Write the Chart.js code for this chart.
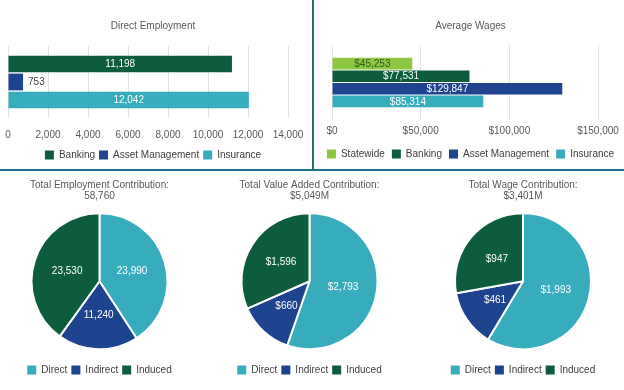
<!DOCTYPE html>
<html>
<head>
<meta charset="utf-8">
<script src="https://cdn.jsdelivr.net/npm/chart.js@4.4.1/dist/chart.umd.min.js"></script>
<style>
  html, body { margin: 0; padding: 0; background: #fff; }
  body { width: 624px; height: 390px; position: relative; overflow: hidden; }
  .box { position: absolute; }
  .sep { position: absolute; background: #1f6f8b; z-index: 5; }
</style>
</head>
<body>
<div class="box" style="left:0;top:0;width:312px;height:170px"><canvas id="employment"></canvas></div>
<div class="box" style="left:315px;top:0;width:309px;height:170px"><canvas id="wages"></canvas></div>
<div class="box" style="left:0;top:172px;width:199px;height:218px"><canvas id="pieEmployment"></canvas></div>
<div class="box" style="left:210px;top:172px;width:199px;height:218px"><canvas id="pieValue"></canvas></div>
<div class="box" style="left:424px;top:172px;width:198px;height:218px"><canvas id="pieWage"></canvas></div>
<div class="sep" style="left:312px;top:0;width:2px;height:170px"></div>
<div class="sep" style="left:0;top:169px;width:624px;height:2px"></div>

<script>
// data
const employmentSectors = ["Banking", "Asset Management", "Insurance"];
const employmentValues = [11198, 753, 12042];
const employmentTicks = { max: 14000, step: 2000 };

const wageSectors = ["Statewide", "Banking", "Asset Management", "Insurance"];
const wageValues = [45253, 77531, 129847, 85314];
const wageTicks = { max: 150000, step: 50000 };

const pieLabels = ["Direct", "Indirect", "Induced"];
const employmentContribution = [23990, 11240, 23530];
const valueAddedContribution = [2793, 660, 1596];
const wageContribution = [1993, 461, 947];

const colors = {
  Statewide: "#8dc641",
  Banking: "#0c5c3d",
  "Asset Management": "#1e438f",
  Insurance: "#37acbd",
};
const pieColors = ["#37acbd", "#1e438f", "#0c5c3d"];

Chart.defaults.font.family = "'Liberation Sans', Arial, sans-serif";
Chart.defaults.font.size = 10;
Chart.defaults.animation = false;

const fmt = (v) => v.toLocaleString("en-US");
const money = (v) => "$" + v.toLocaleString("en-US");

// labels on bars: inside if they fit, else to the right
const barLabels = {
  id: "barLabels",
  afterDatasetsDraw(chart, args, opts) {
    const { ctx } = chart;
    ctx.save();
    ctx.font = "10px 'Liberation Sans', Arial, sans-serif";
    ctx.textBaseline = "middle";
    chart.data.datasets.forEach((ds, i) => {
      chart.getDatasetMeta(i).data.forEach((bar, j) => {
        const text = opts.format(ds.data[j]);
        const w = ctx.measureText(text).width;
        const len = bar.x - bar.base;
        if (w + 6 < len) {
          ctx.textAlign = "center";
          ctx.fillStyle = ds.labelColor || "#fff";
          ctx.fillText(text, (bar.x + bar.base) / 2, bar.y + 0.5);
        } else {
          ctx.textAlign = "left";
          ctx.fillStyle = "#404040";
          ctx.fillText(text, bar.x + 5, bar.y + 0.5);
        }
      });
    });
    ctx.restore();
  },
};

// labels inside pie slices
const pieValueLabels = {
  id: "pieValueLabels",
  afterDatasetsDraw(chart, args, opts) {
    const { ctx } = chart;
    const ds = chart.data.datasets[0];
    ctx.save();
    ctx.font = "10px 'Liberation Sans', Arial, sans-serif";
    ctx.fillStyle = "#fff";
    ctx.textAlign = "center";
    ctx.textBaseline = "middle";
    chart.getDatasetMeta(0).data.forEach((arc, j) => {
      const p = arc.tooltipPosition();
      ctx.fillText(opts.format(ds.data[j]), p.x, p.y);
    });
    ctx.restore();
  },
};

function barChart(id, title, sectors, values, ticks, tickFmt, lay) {
  new Chart(document.getElementById(id), {
    type: "bar",
    data: {
      labels: [""],
      datasets: sectors.map((s, i) => ({
        label: s,
        data: [values[i]],
        backgroundColor: colors[s],
        labelColor: s === "Statewide" ? "#2f5a1c" : "#fff",
        barPercentage: lay.barPct,
        categoryPercentage: lay.catPct,
      })),
    },
    options: {
      indexAxis: "y",
      responsive: true,
      maintainAspectRatio: false,
      layout: { padding: lay.padding },
      scales: {
        // blank axes only used to set the side margins of the plot
        y: {
          grid: { display: false },
          border: { display: false },
          ticks: { display: false },
          afterFit: (s) => { s.width = lay.left; },
        },
        yRight: {
          type: "linear",
          position: "right",
          grid: { display: false },
          border: { display: false },
          ticks: { display: false },
          afterFit: (s) => { s.width = lay.right; },
        },
        x: {
          min: 0,
          max: ticks.max,
          border: { display: false },
          grid: { color: "#e3e3e3", drawTicks: false },
          ticks: {
            stepSize: ticks.step,
            color: "#595959",
            padding: lay.tickPad,
            callback: (v) => tickFmt(v),
          },
          afterFit: (s) => {
            s.height = lay.axisH;
            s.paddingLeft = 0;
            s.paddingRight = 0;
          },
        },
      },
      plugins: {
        title: {
          display: true,
          text: title,
          color: "#595959",
          font: { size: 10, weight: "normal", lineHeight: 1.1 },
          padding: lay.titlePad,
        },
        legend: {
          position: "bottom",
          labels: {
            boxWidth: 9,
            boxHeight: 9,
            color: "#404040",
            padding: lay.legendPad,
          },
        },
        tooltip: { enabled: false },
        barLabels: { format: tickFmt },
      },
    },
    plugins: [barLabels],
  });
}

function pieChart(id, title, values, valueFmt, totalFmt) {
  const total = values.reduce((a, b) => a + b, 0);
  new Chart(document.getElementById(id), {
    type: "pie",
    data: {
      labels: pieLabels,
      datasets: [
        {
          data: values,
          backgroundColor: pieColors,
          borderColor: "#fff",
          borderWidth: 2,
          radius: 68,
        },
      ],
    },
    options: {
      responsive: true,
      maintainAspectRatio: false,
      layout: { padding: { bottom: 5 } },
      plugins: {
        title: {
          display: true,
          text: [title, totalFmt(total)],
          color: "#595959",
          font: { size: 10, weight: "normal", lineHeight: 1.1 },
          padding: { top: 7.5, bottom: 0 },
        },
        legend: {
          position: "bottom",
          labels: {
            boxWidth: 9,
            boxHeight: 9,
            color: "#404040",
            padding: 4,
            generateLabels: (chart) =>
              Chart.overrides.pie.plugins.legend.labels
                .generateLabels(chart)
                .map((l) => ({ ...l, lineWidth: 0 })),
          },
        },
        tooltip: { enabled: false },
        pieValueLabels: { format: valueFmt },
      },
    },
    plugins: [pieValueLabels],
  });
}

barChart("employment", "Direct Employment", employmentSectors, employmentValues, employmentTicks, fmt, {
  padding: { left: 0, right: 6, bottom: 0 },
  left: 8,
  right: 18,
  titlePad: { top: 21, bottom: 14 },
  tickPad: 11.5,
  axisH: 28,
  legendPad: 4,
  barPct: 0.93,
  catPct: 0.75,
});

barChart("wages", "Average Wages", wageSectors, wageValues, wageTicks, money, {
  padding: { left: 2, right: 0, bottom: 1 },
  left: 15,
  right: 26,
  titlePad: { top: 21, bottom: 13 },
  tickPad: 5,
  axisH: 22,
  legendPad: 7,
  barPct: 0.93,
  catPct: 0.67,
});

pieChart("pieEmployment", "Total Employment Contribution:", employmentContribution, fmt, fmt);
pieChart("pieValue", "Total Value Added Contribution:", valueAddedContribution, money, (t) => money(t) + "M");
pieChart("pieWage", "Total Wage Contribution:", wageContribution, money, (t) => money(t) + "M");
</script>
</body>
</html>
